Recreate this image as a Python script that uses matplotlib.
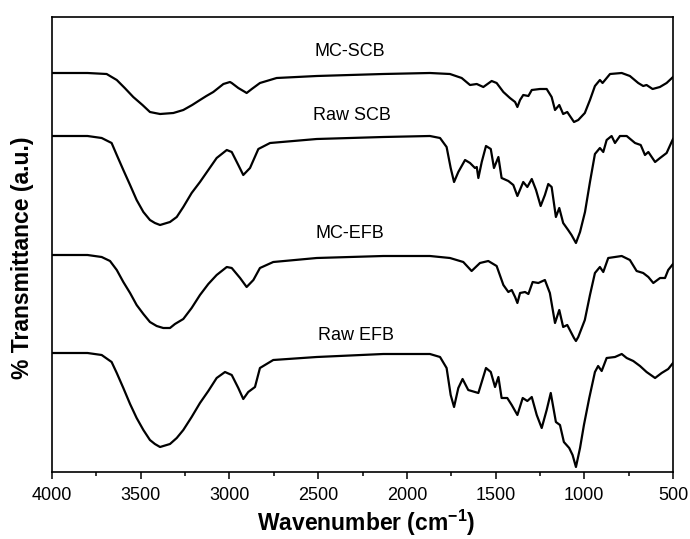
import numpy as np
import matplotlib
matplotlib.use("Agg")
import matplotlib.pyplot as plt
from matplotlib.ticker import MultipleLocator

plt.rcParams["font.family"] = ["Liberation Sans", "DejaVu Sans"]
plt.rcParams["mathtext.fontset"] = "custom"
plt.rcParams["mathtext.rm"] = "Liberation Sans:bold"
plt.rcParams["mathtext.it"] = "Liberation Sans:bold"
plt.rcParams["mathtext.bf"] = "Liberation Sans:bold"

# FTIR spectra, transmittance in arbitrary units (already stacked)
wn_mc_scb = [4000, 3800, 3692, 3635, 3590, 3542, 3490, 3448, 3420, 3391, 3316, 3260, 3210, 3166, 3130,
             3091, 3034, 2997, 2987, 2950,
             2912, 2903, 2874, 2828, 2734, 2508, 2134, 1870, 1757, 1691, 1644, 1606, 1569, 1522, 1494,
             1456, 1419, 1390, 1377, 1362, 1344, 1315, 1296, 1250, 1212, 1184, 1165, 1141, 1119, 1096,
             1058, 1034, 997, 968, 940, 912, 897, 855, 789, 743, 696, 668, 649, 615, 574, 536, 500]
t_mc_scb = [399, 399, 398, 392, 384, 375, 367, 360, 359, 358, 359, 362, 367, 372, 376,
            380, 388, 390, 389, 384,
            380, 379, 383, 389, 394, 396, 398, 399, 398, 394, 387, 388, 385, 391, 389,
            380, 374, 370, 365, 372, 377, 376, 382, 383, 383, 375, 362, 367, 358, 360,
            350, 352, 359, 372, 386, 392, 389, 398, 399, 396, 389, 386, 387, 383, 385, 389, 395]

wn_raw_scb = [4000, 3800, 3720, 3664, 3635, 3598, 3560, 3523, 3485, 3448, 3420, 3391, 3335, 3297, 3260,
              3213, 3166, 3119, 3072, 3015, 2987, 2950, 2922,
              2884, 2837, 2771, 2508, 2133, 1870, 1813, 1776, 1753, 1734, 1710, 1672, 1644, 1616, 1606,
              1597, 1578, 1554, 1527, 1509, 1484, 1466, 1428, 1400, 1377, 1344, 1321, 1296, 1272, 1246,
              1222, 1203, 1184, 1160, 1141, 1119, 1091, 1072, 1047, 1024, 996, 968, 940, 912, 893,
              874, 846, 827, 799, 761, 714, 682, 658, 639, 601, 573, 536, 508, 500]
t_raw_scb = [336, 336, 334, 329, 317, 302, 287, 272, 260, 252, 249, 247, 250, 255, 265,
             279, 290, 302, 314, 322, 320, 307, 297,
             304, 323, 329, 333, 335, 336, 334, 325, 304, 290, 300, 312, 309, 304, 305,
             294, 310, 326, 323, 304, 315, 294, 291, 287, 276, 290, 285, 293, 282, 266,
             277, 288, 285, 255, 264, 249, 242, 237, 229, 240, 260, 290, 318, 324, 320,
             332, 336, 329, 336, 336, 329, 327, 317, 320, 310, 314, 319, 330, 333]

wn_mc_efb = [4000, 3800, 3720, 3673, 3635, 3598, 3560, 3523, 3485, 3448, 3410, 3373, 3335, 3307, 3260,
             3213, 3166, 3119, 3072, 3015, 2987, 2940,
             2903, 2865, 2828, 2753, 2508, 2133, 1870, 1757, 1682, 1635, 1588, 1541, 1494, 1456, 1428,
             1409, 1390, 1377, 1362, 1334, 1315, 1291, 1259, 1222, 1194, 1165, 1141, 1119, 1096, 1058,
             1047, 1034, 997, 968, 940, 912, 893, 865, 789, 743, 705, 668, 639, 611, 573, 545, 527, 500]
t_mc_efb = [217, 217, 215, 211, 202, 190, 179, 167, 158, 150, 146, 144, 144, 148, 153,
            164, 177, 188, 197, 205, 204, 194,
            185, 192, 204, 210, 214, 216, 216, 214, 210, 201, 209, 211, 206, 187, 180,
            182, 175, 169, 179, 180, 178, 190, 189, 192, 179, 149, 162, 145, 147, 134,
            131, 135, 152, 177, 199, 205, 200, 214, 216, 212, 201, 199, 195, 189, 194, 194, 202, 208]

wn_raw_efb = [4000, 3800, 3720, 3664, 3635, 3598, 3560, 3523, 3485, 3448, 3420, 3391, 3335, 3297, 3260,
              3213, 3166, 3119, 3072, 3025, 2987, 2950, 2922,
              2894, 2856, 2828, 2753, 2508, 2133, 1870, 1813, 1776, 1753, 1734, 1710, 1686, 1654, 1616,
              1597, 1578, 1554, 1527, 1503, 1484, 1466, 1434, 1409, 1377, 1347, 1321, 1296, 1268, 1240,
              1212, 1189, 1160, 1137, 1115, 1085, 1066, 1047, 1024, 1002, 972, 940, 922, 902, 874,
              827, 789, 761, 724, 686, 649, 601, 564, 527, 500]
t_raw_efb = [119, 119, 117, 110, 99, 84, 68, 54, 42, 32, 28, 25, 28, 34, 42,
             55, 69, 81, 94, 100, 97, 84, 73,
             80, 85, 104, 112, 115, 118, 118, 115, 104, 77, 65, 84, 93, 82, 80,
             79, 90, 104, 100, 85, 95, 74, 74, 67, 57, 74, 71, 75, 57, 44,
             62, 79, 50, 47, 30, 24, 17, 5, 24, 47, 74, 100, 106, 101, 114,
             115, 118, 114, 111, 106, 100, 94, 99, 103, 109]

names = ["MC-SCB", "Raw SCB", "MC-EFB", "Raw EFB"]
label_pos = [(2320, 420), (2309, 357), (2320, 239), (2287, 137)]

fig = plt.figure(figsize=(6.9, 5.39), dpi=100)
ax = fig.add_axes([52 / 690, 67 / 539, 621 / 690, 455 / 539])

for wn, t in [(wn_mc_scb, t_mc_scb), (wn_raw_scb, t_raw_scb),
              (wn_mc_efb, t_mc_efb), (wn_raw_efb, t_raw_efb)]:
    ax.plot(wn, t, color="black", lw=1.6, solid_joinstyle="round")

for name, (x, y) in zip(names, label_pos):
    ax.text(x, y, name, ha="center", va="center", fontsize=13)

ax.set_xlim(4000, 500)
ax.set_ylim(0, 455)
ax.xaxis.set_major_locator(MultipleLocator(500))
ax.xaxis.set_minor_locator(MultipleLocator(250))
ax.set_yticks([])
ax.tick_params(axis="x", which="major", direction="out", length=5, width=1.1, labelsize=13, pad=6)
ax.tick_params(axis="x", which="minor", direction="out", length=3, width=1.1)
for s in ax.spines.values():
    s.set_linewidth(1.2)

fig.text(366 / 690, 1 - 523 / 539, r"Wavenumber (cm$^{-1}$)", ha="center", va="center",
         fontsize=16.5, fontweight="bold")
fig.text(23 / 690, 1 - 258 / 539, "% Transmittance (a.u.)", ha="center", va="center",
         rotation=90, fontsize=16.5, fontweight="bold")

fig.savefig("out.png", dpi=100)
